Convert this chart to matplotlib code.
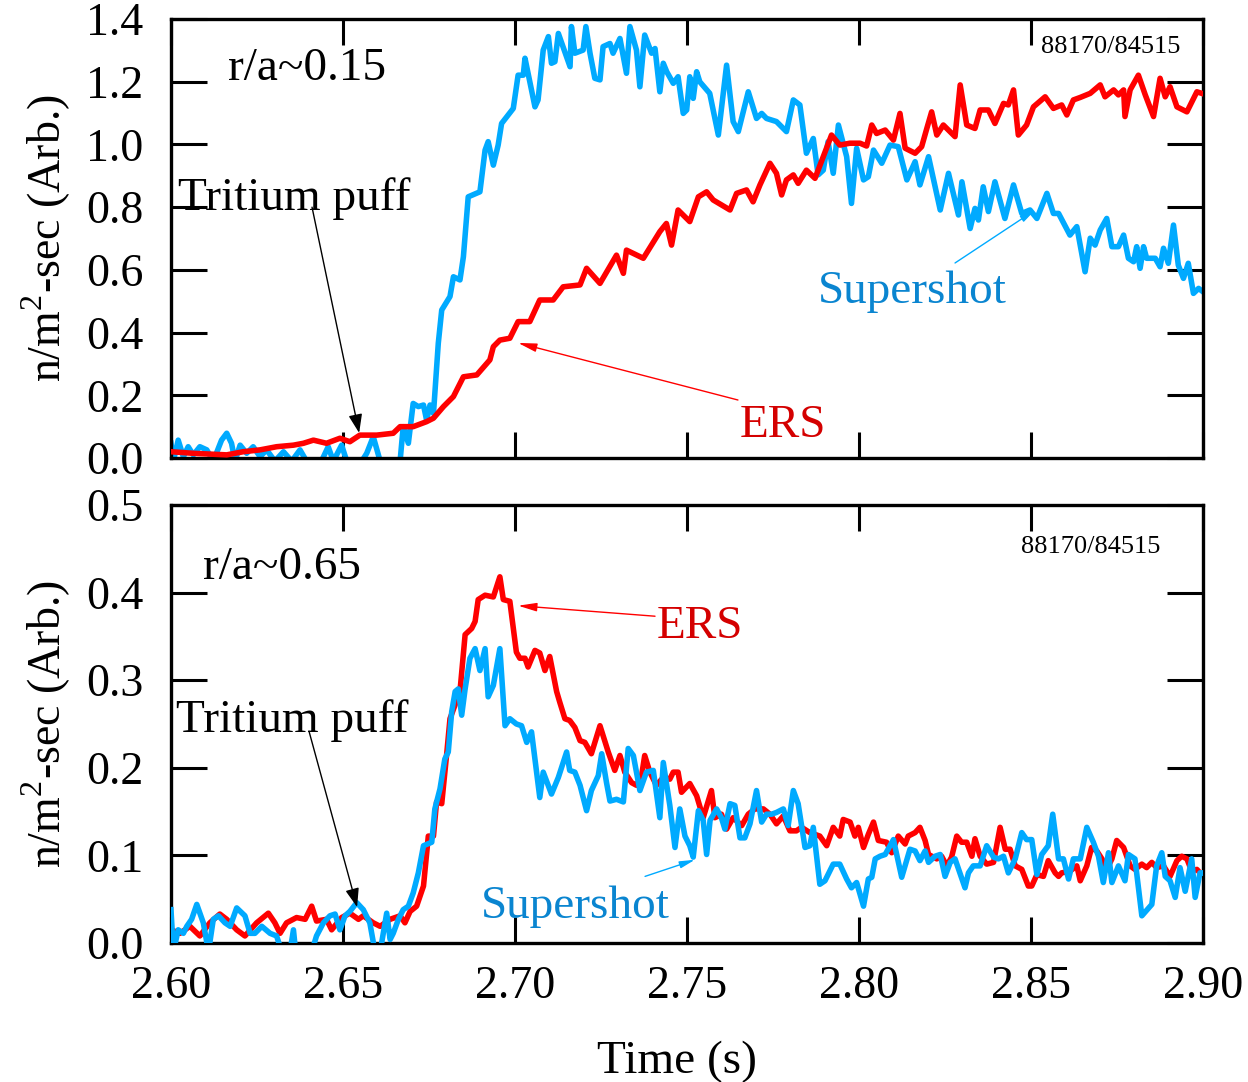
import matplotlib
matplotlib.use("Agg")
import matplotlib.pyplot as plt

plt.rcParams['font.family'] = ['Liberation Serif', 'DejaVu Serif']
plt.rcParams['mathtext.fontset'] = 'custom'
plt.rcParams['mathtext.rm'] = 'Liberation Serif'

RED = '#ff0000'
BLUE = '#00aaff'
RED_TXT = '#d40000'
BLUE_TXT = '#0a85d0'

# ---- r/a ~ 0.15 : ERS ----
t_ers_core = [2.600, 2.6065, 2.6162, 2.6210, 2.6259, 2.6307, 2.6356, 2.6385, 2.6414, 2.6452,
              2.6491, 2.6520, 2.6549, 2.6598, 2.6646, 2.6666, 2.6704, 2.6743, 2.6763, 2.6792,
              2.6821, 2.6850, 2.6889, 2.6927, 2.6937, 2.6956, 2.6985, 2.7009, 2.7043, 2.7072,
              2.7111, 2.7140, 2.7189, 2.7208, 2.7247, 2.7295, 2.7315, 2.7324, 2.7373, 2.7421,
              2.7440, 2.7455, 2.7474, 2.7508, 2.7533, 2.7557, 2.7576, 2.7625, 2.7644, 2.7673,
              2.7692, 2.7712, 2.7741, 2.7760, 2.7775, 2.7789, 2.7809, 2.7823, 2.7847, 2.7872,
              2.7896, 2.7920, 2.7944, 2.7973, 2.8003, 2.8022, 2.8037, 2.8051, 2.8076, 2.8100,
              2.8119, 2.8134, 2.8163, 2.8182, 2.8197, 2.8211, 2.8226, 2.8245, 2.8279, 2.8294,
              2.8313, 2.8337, 2.8352, 2.8376, 2.8395, 2.8420, 2.8434, 2.8449, 2.8463, 2.8487,
              2.8507, 2.8541, 2.8565, 2.8589, 2.8604, 2.8623, 2.8643, 2.8672, 2.8701, 2.8715,
              2.8740, 2.8754, 2.8769, 2.8773, 2.8788, 2.8812, 2.8832, 2.8856, 2.8875, 2.8890,
              2.8904, 2.8924, 2.8953, 2.8982, 2.8996]
v_ers_core = [0.020, 0.015, 0.010, 0.020, 0.026, 0.036, 0.041, 0.047, 0.057, 0.047,
              0.063, 0.052, 0.073, 0.073, 0.079, 0.100, 0.100, 0.116, 0.127, 0.164,
              0.196, 0.259, 0.265, 0.313, 0.355, 0.376, 0.382, 0.435, 0.435, 0.504,
              0.504, 0.546, 0.552, 0.605, 0.557, 0.647, 0.589, 0.663, 0.637, 0.722,
              0.748, 0.679, 0.791, 0.754, 0.833, 0.849, 0.823, 0.791, 0.844, 0.855,
              0.817, 0.871, 0.940, 0.908, 0.839, 0.887, 0.903, 0.876, 0.918, 0.892,
              0.961, 1.030, 0.998, 1.004, 1.004, 0.995, 1.062, 1.035, 1.046, 1.014,
              1.099, 0.988, 0.972, 0.993, 1.051, 1.104, 1.030, 1.062, 1.025, 1.190,
              1.062, 1.051, 1.110, 1.110, 1.067, 1.131, 1.126, 1.174, 1.030, 1.062,
              1.120, 1.152, 1.115, 1.126, 1.094, 1.142, 1.150, 1.163, 1.190, 1.152,
              1.174, 1.158, 1.174, 1.089, 1.174, 1.221, 1.158, 1.089, 1.211, 1.152,
              1.184, 1.120, 1.104, 1.168, 1.163]

# ---- r/a ~ 0.15 : Supershot ----
t_ss_core = [2.600, 2.6007, 2.6021, 2.6036, 2.6050, 2.6065, 2.6084, 2.6104, 2.6123, 2.6147,
             2.6162, 2.6176, 2.6186, 2.6201, 2.6220, 2.6239, 2.6259, 2.6278, 2.6302, 2.6327,
             2.6351, 2.6375, 2.6394, 2.6409, 2.6433, 2.6457, 2.6472, 2.6496, 2.6511, 2.6530,
             2.6549, 2.6569, 2.6588, 2.6608, 2.6627, 2.6651, 2.6666, 2.6675, 2.6690, 2.6704,
             2.6719, 2.6734, 2.6743, 2.6753, 2.6763, 2.6777, 2.6787, 2.6811, 2.6821, 2.6840,
             2.6850, 2.6864, 2.6898, 2.6913, 2.6922, 2.6937, 2.6951, 2.6961, 2.6995, 2.7009,
             2.7024, 2.7029, 2.7058, 2.7067, 2.7082, 2.7097, 2.7106, 2.7116, 2.7126, 2.7160,
             2.7164, 2.7174, 2.7198, 2.7206, 2.7218, 2.7232, 2.7247, 2.7256, 2.7276, 2.7285,
             2.7305, 2.7324, 2.7334, 2.7353, 2.7363, 2.7377, 2.7397, 2.7407, 2.7421, 2.7431,
             2.7441, 2.7460, 2.7474, 2.7489, 2.7499, 2.7508, 2.7518, 2.7528, 2.7537, 2.7566,
             2.7591, 2.7615, 2.7634, 2.7649, 2.7678, 2.7702, 2.7717, 2.7731, 2.7760, 2.7789,
             2.7809, 2.7828, 2.7847, 2.7867, 2.7881, 2.7896, 2.7910, 2.7925, 2.7940, 2.7964,
             2.7978, 2.7993, 2.8013, 2.8027, 2.8042, 2.8066, 2.8090, 2.8114, 2.8139, 2.8163,
             2.8177, 2.8202, 2.8236, 2.8260, 2.8289, 2.8299, 2.8323, 2.8337, 2.8347, 2.8361,
             2.8376, 2.8395, 2.8424, 2.8449, 2.8473, 2.8497, 2.8517, 2.8546, 2.8565, 2.8580,
             2.8613, 2.8633, 2.8657, 2.8672, 2.8686, 2.8701, 2.8720, 2.8735, 2.8754, 2.8769,
             2.8783, 2.8798, 2.8807, 2.8817, 2.8827, 2.8836, 2.8861, 2.8875, 2.8885, 2.8899,
             2.8914, 2.8928, 2.8943, 2.8957, 2.8972, 2.8987, 2.900]
v_ss_core = [0.047, -0.010, 0.057, 0.004, 0.036, 0.010, 0.036, 0.026, -0.010, 0.057,
             0.079, 0.047, -0.010, 0.041, 0.015, 0.036, 0.004, 0.026, -0.010, 0.020,
             -0.010, 0.026, -0.010, -0.010, -0.020, 0.036, -0.010, 0.041, -0.010, -0.020,
             -0.020, 0.015, 0.068, -0.010, -0.020, -0.020, -0.010, 0.100, 0.047, 0.174,
             0.164, 0.169, 0.121, 0.169, 0.142, 0.366, 0.472, 0.515, 0.578, 0.568,
             0.642, 0.833, 0.849, 0.982, 1.009, 0.934, 0.998, 1.067, 1.115, 1.221,
             1.221, 1.275, 1.120, 1.142, 1.301, 1.344, 1.259, 1.264, 1.354, 1.248,
             1.376, 1.291, 1.301, 1.376, 1.291, 1.211, 1.206, 1.312, 1.322, 1.291,
             1.338, 1.227, 1.376, 1.301, 1.184, 1.349, 1.291, 1.306, 1.168, 1.259,
             1.232, 1.195, 1.216, 1.099, 1.110, 1.216, 1.147, 1.232, 1.200, 1.163,
             1.030, 1.253, 1.073, 1.041, 1.168, 1.083, 1.099, 1.083, 1.073, 1.041,
             1.142, 1.126, 0.972, 1.019, 0.903, 0.918, 1.009, 0.908, 1.062, 0.961,
             0.812, 0.988, 0.887, 0.897, 0.982, 0.940, 0.998, 0.993, 0.887, 0.945,
             0.871, 0.961, 0.791, 0.908, 0.775, 0.881, 0.732, 0.796, 0.759, 0.865,
             0.786, 0.881, 0.764, 0.871, 0.780, 0.791, 0.764, 0.844, 0.780, 0.780,
             0.711, 0.738, 0.594, 0.701, 0.679, 0.727, 0.764, 0.674, 0.674, 0.711,
             0.637, 0.626, 0.674, 0.605, 0.674, 0.637, 0.637, 0.610, 0.669, 0.621,
             0.743, 0.615, 0.573, 0.621, 0.525, 0.541, 0.530]

# ---- r/a ~ 0.65 : ERS ----
t_ers_edge = [2.600, 2.6026, 2.6055, 2.6084, 2.6113, 2.6142, 2.6162, 2.6191, 2.6215, 2.6249,
              2.6283, 2.6302, 2.6317, 2.6336, 2.6365, 2.6390, 2.6409, 2.6423, 2.6452, 2.6467,
              2.6496, 2.6520, 2.6545, 2.6559, 2.6588, 2.6608, 2.6637, 2.6666, 2.6680, 2.6695,
              2.6714, 2.6734, 2.6748, 2.6763, 2.6772, 2.6787, 2.6801, 2.6811, 2.6840, 2.6855,
              2.6874, 2.6884, 2.6893, 2.6913, 2.6937, 2.6956, 2.6966, 2.6985, 2.7004, 2.7014,
              2.7029, 2.7038, 2.7058, 2.7072, 2.7087, 2.7101, 2.7121, 2.7130, 2.7145, 2.7159,
              2.7174, 2.7189, 2.7203, 2.7222, 2.7247, 2.7271, 2.7290, 2.7305, 2.7319, 2.7339,
              2.7353, 2.7368, 2.7377, 2.7392, 2.7411, 2.7431, 2.7450, 2.7460, 2.7474, 2.7484,
              2.7508, 2.7528, 2.7547, 2.7571, 2.7581, 2.7600, 2.7615, 2.7634, 2.7659, 2.7678,
              2.7697, 2.7722, 2.7741, 2.7760, 2.7780, 2.7799, 2.7818, 2.7833, 2.7857, 2.7886,
              2.7906, 2.7925, 2.7944, 2.7954, 2.7974, 2.7988, 2.7998, 2.8013, 2.8027, 2.8042,
              2.8056, 2.8080, 2.8095, 2.8114, 2.8134, 2.8143, 2.8163, 2.8177, 2.8192, 2.8202,
              2.8226, 2.8240, 2.8255, 2.8269, 2.8284, 2.8298, 2.8313, 2.8328, 2.8337, 2.8352,
              2.8371, 2.8391, 2.8410, 2.8425, 2.8439, 2.8454, 2.8473, 2.8492, 2.8502, 2.8517,
              2.8536, 2.8550, 2.8570, 2.8580, 2.8589, 2.8613, 2.8633, 2.8643, 2.8662, 2.8676,
              2.8691, 2.8706, 2.8720, 2.8735, 2.8749, 2.8769, 2.8788, 2.8802, 2.8822, 2.8836,
              2.8851, 2.8865, 2.8885, 2.8904, 2.8924, 2.8938, 2.8953, 2.8967, 2.8982, 2.8991]
v_ers_edge = [0.015, 0.011, 0.019, 0.008, 0.023, 0.033, 0.027, 0.015, 0.008, 0.023,
              0.034, 0.023, 0.011, 0.023, 0.029, 0.027, 0.042, 0.025, 0.027, 0.015,
              0.029, 0.034, 0.027, 0.031, 0.023, 0.019, 0.027, 0.031, 0.023, 0.036,
              0.042, 0.065, 0.122, 0.122, 0.161, 0.159, 0.214, 0.256, 0.287, 0.352,
              0.359, 0.367, 0.392, 0.397, 0.395, 0.418, 0.392, 0.390, 0.332, 0.325,
              0.325, 0.315, 0.334, 0.331, 0.311, 0.327, 0.287, 0.275, 0.256, 0.254,
              0.246, 0.231, 0.229, 0.216, 0.248, 0.218, 0.197, 0.214, 0.195, 0.183,
              0.180, 0.191, 0.214, 0.195, 0.180, 0.189, 0.187, 0.195, 0.195, 0.172,
              0.182, 0.168, 0.143, 0.174, 0.143, 0.147, 0.130, 0.143, 0.134, 0.147,
              0.153, 0.153, 0.147, 0.136, 0.145, 0.128, 0.128, 0.132, 0.126, 0.122,
              0.111, 0.132, 0.122, 0.141, 0.138, 0.122, 0.132, 0.109, 0.124, 0.138,
              0.117, 0.115, 0.103, 0.122, 0.113, 0.122, 0.126, 0.132, 0.117, 0.101,
              0.096, 0.099, 0.088, 0.098, 0.122, 0.115, 0.115, 0.099, 0.119, 0.099,
              0.090, 0.092, 0.132, 0.107, 0.107, 0.088, 0.084, 0.065, 0.065, 0.078,
              0.076, 0.094, 0.080, 0.076, 0.080, 0.082, 0.088, 0.071, 0.088, 0.109,
              0.105, 0.096, 0.084, 0.096, 0.117, 0.109, 0.088, 0.084, 0.090, 0.086,
              0.092, 0.086, 0.088, 0.076, 0.094, 0.099, 0.096, 0.082, 0.084, 0.080]

# ---- r/a ~ 0.65 : Supershot ----
t_ss_edge = [2.600, 2.6007, 2.6021, 2.6036, 2.6046, 2.6060, 2.6075, 2.6094, 2.6109, 2.6123,
             2.6138, 2.6157, 2.6172, 2.6191, 2.6215, 2.6230, 2.6244, 2.6264, 2.6288, 2.6307,
             2.6322, 2.6346, 2.6356, 2.6365, 2.6394, 2.6409, 2.6423, 2.6443, 2.6462, 2.6477,
             2.6491, 2.6506, 2.6520, 2.6540, 2.6559, 2.6578, 2.6593, 2.6608, 2.6627, 2.6637,
             2.6646, 2.6661, 2.6675, 2.6690, 2.6704, 2.6719, 2.6734, 2.6758, 2.6767, 2.6782,
             2.6796, 2.6806, 2.6816, 2.6826, 2.6835, 2.6845, 2.6855, 2.6869, 2.6884, 2.6898,
             2.6913, 2.6922, 2.6937, 2.6956, 2.6971, 2.6985, 2.7004, 2.7019, 2.7034, 2.7048,
             2.7072, 2.7082, 2.7106, 2.7126, 2.7150, 2.7159, 2.7174, 2.7189, 2.7208, 2.7222,
             2.7242, 2.7252, 2.7266, 2.7276, 2.7295, 2.7315, 2.7329, 2.7344, 2.7363, 2.7382,
             2.7402, 2.7421, 2.7431, 2.7450, 2.7465, 2.7479, 2.7494, 2.7508, 2.7518, 2.7533,
             2.7547, 2.7557, 2.7567, 2.7586, 2.7600, 2.7610, 2.7625, 2.7639, 2.7654, 2.7668,
             2.7683, 2.7702, 2.7717, 2.7731, 2.7746, 2.7760, 2.7780, 2.7794, 2.7809, 2.7823,
             2.7843, 2.7857, 2.7867, 2.7886, 2.7901, 2.7925, 2.7944, 2.7964, 2.7978, 2.7993,
             2.8013, 2.8027, 2.8037, 2.8047, 2.8061, 2.8076, 2.8100, 2.8124, 2.8148, 2.8163,
             2.8177, 2.8192, 2.8202, 2.8221, 2.8236, 2.8250, 2.8265, 2.8279, 2.8308, 2.8318,
             2.8332, 2.8352, 2.8371, 2.8391, 2.8405, 2.8420, 2.8434, 2.8454, 2.8473, 2.8487,
             2.8502, 2.8517, 2.8531, 2.8550, 2.8563, 2.8580, 2.8594, 2.8609, 2.8623, 2.8643,
             2.8662, 2.8681, 2.8696, 2.8710, 2.8725, 2.8735, 2.8754, 2.8773, 2.8783, 2.8802,
             2.8822, 2.8851, 2.8865, 2.8880, 2.8890, 2.8904, 2.8919, 2.8933, 2.8948, 2.8967,
             2.8977, 2.8991, 2.900]
v_ss_edge = [0.038, -0.010, 0.015, 0.011, 0.019, 0.027, 0.044, 0.023, -0.010, 0.027,
             0.031, 0.023, 0.019, 0.040, 0.031, 0.011, 0.011, 0.019, 0.011, 0.008,
             -0.010, -0.010, 0.015, -0.020, -0.020, -0.010, 0.008, 0.023, 0.031, 0.033,
             0.015, 0.031, 0.036, 0.046, 0.038, 0.023, -0.010, -0.010, 0.034, 0.004,
             0.011, 0.027, 0.038, 0.042, 0.057, 0.080, 0.111, 0.115, 0.153, 0.176,
             0.210, 0.218, 0.264, 0.287, 0.290, 0.260, 0.290, 0.325, 0.336, 0.311,
             0.336, 0.281, 0.294, 0.336, 0.248, 0.256, 0.250, 0.248, 0.229, 0.241,
             0.166, 0.195, 0.170, 0.189, 0.218, 0.197, 0.195, 0.180, 0.151, 0.174,
             0.191, 0.216, 0.183, 0.162, 0.164, 0.161, 0.222, 0.214, 0.174, 0.195,
             0.197, 0.143, 0.206, 0.157, 0.109, 0.153, 0.122, 0.111, 0.098, 0.151,
             0.140, 0.101, 0.140, 0.153, 0.143, 0.130, 0.159, 0.157, 0.120, 0.120,
             0.136, 0.174, 0.138, 0.147, 0.147, 0.149, 0.153, 0.134, 0.174, 0.159,
             0.109, 0.111, 0.132, 0.067, 0.071, 0.090, 0.090, 0.073, 0.063, 0.069,
             0.042, 0.073, 0.075, 0.096, 0.099, 0.101, 0.118, 0.075, 0.107, 0.105,
             0.094, 0.105, 0.092, 0.099, 0.101, 0.076, 0.092, 0.096, 0.063, 0.080,
             0.088, 0.088, 0.111, 0.098, 0.096, 0.099, 0.080, 0.096, 0.126, 0.118,
             0.118, 0.078, 0.101, 0.111, 0.147, 0.096, 0.096, 0.073, 0.096, 0.096,
             0.132, 0.115, 0.099, 0.069, 0.103, 0.069, 0.088, 0.071, 0.101, 0.096,
             0.031, 0.044, 0.088, 0.103, 0.076, 0.071, 0.052, 0.086, 0.059, 0.096,
             0.052, 0.080, 0.080]

x_ticks = [2.60, 2.65, 2.70, 2.75, 2.80, 2.85, 2.90]
x_tick_labels = ['2.60', '2.65', '2.70', '2.75', '2.80', '2.85', '2.90']
y_ticks_core = [0.0, 0.2, 0.4, 0.6, 0.8, 1.0, 1.2, 1.4]
y_ticks_edge = [0.0, 0.1, 0.2, 0.3, 0.4, 0.5]

ylabel = 'n/m$^{\\mathrm{2}}$-sec (Arb.)'
shot_label = '88170/84515'

fig = plt.figure(figsize=(12.48, 10.82), dpi=100)
ax1 = fig.add_axes([0.137, 0.5767, 0.827, 0.4057])
ax2 = fig.add_axes([0.137, 0.1285, 0.827, 0.4048])


def style_axes(ax, yticks, ylim):
    ax.set_xlim(2.60, 2.90)
    ax.set_ylim(*ylim)
    ax.set_xticks(x_ticks)
    ax.set_yticks(yticks)
    ax.set_yticklabels(['%.1f' % v for v in yticks])
    for s in ax.spines.values():
        s.set_linewidth(2.4)
    ax.tick_params(axis='both', direction='in', top=True, right=True,
                   width=2.2, labelsize=33)
    ax.tick_params(axis='y', length=26, pad=20)
    ax.tick_params(axis='x', length=19, pad=16)
    ax.set_ylabel(ylabel, fontsize=33, va='center')
    ax.yaxis.set_label_coords(-0.121, 0.5)


def arrow(ax, tail, tip, color, scale, head='-|>,head_length=0.6,head_width=0.22'):
    ax.annotate('', xy=tip, xytext=tail,
                arrowprops=dict(arrowstyle=head, color=color, lw=1.0,
                                mutation_scale=scale, shrinkA=0, shrinkB=0))


small_head = '-|>,head_length=0.7,head_width=0.16'

# top panel: r/a ~ 0.15
ax1.plot(t_ers_core, v_ers_core, color=RED, lw=4.0, zorder=3)
ax1.plot(t_ss_core, v_ss_core, color=BLUE, lw=4.0, zorder=2)
style_axes(ax1, y_ticks_core, (0.0, 1.4))
ax1.set_xticklabels([])

ax1.text(2.6166, 1.205, 'r/a~0.15', fontsize=34)
ax1.text(2.8933, 1.292, shot_label, fontsize=19, ha='right')
ax1.text(2.602, 0.791, 'Tritium puff', fontsize=34)
arrow(ax1, (2.6410, 0.800), (2.6547, 0.080), 'black', 19)
ax1.text(2.7654, 0.067, 'ERS', fontsize=34, color=RED_TXT)
arrow(ax1, (2.7648, 0.185), (2.7009, 0.367), RED, 16, small_head)
ax1.text(2.7881, 0.494, 'Supershot', fontsize=34, color=BLUE_TXT)
arrow(ax1, (2.8279, 0.622), (2.8512, 0.791), BLUE, 13, small_head)

# bottom panel: r/a ~ 0.65
ax2.plot(t_ers_edge, v_ers_edge, color=RED, lw=4.0, zorder=2)
ax2.plot(t_ss_edge, v_ss_edge, color=BLUE, lw=4.0, zorder=3)
style_axes(ax2, y_ticks_edge, (0.0, 0.5))
ax2.set_xticklabels(x_tick_labels)
ax2.set_xlabel('Time (s)', fontsize=34, va='center')
ax2.xaxis.set_label_coords(0.49, -0.272)

ax2.text(2.6093, 0.416, 'r/a~0.65', fontsize=34)
ax2.text(2.8875, 0.445, shot_label, fontsize=19, ha='right')
ax2.text(2.6015, 0.241, 'Tritium puff', fontsize=34)
arrow(ax2, (2.6401, 0.242), (2.6541, 0.041), 'black', 19)
ax2.text(2.7413, 0.348, 'ERS', fontsize=34, color=RED_TXT)
arrow(ax2, (2.7407, 0.373), (2.7009, 0.385), RED, 16, small_head)
ax2.text(2.6901, 0.029, 'Supershot', fontsize=34, color=BLUE_TXT)
arrow(ax2, (2.7378, 0.076), (2.7523, 0.095), BLUE, 13, small_head)

fig.savefig('out.png', dpi=100)
